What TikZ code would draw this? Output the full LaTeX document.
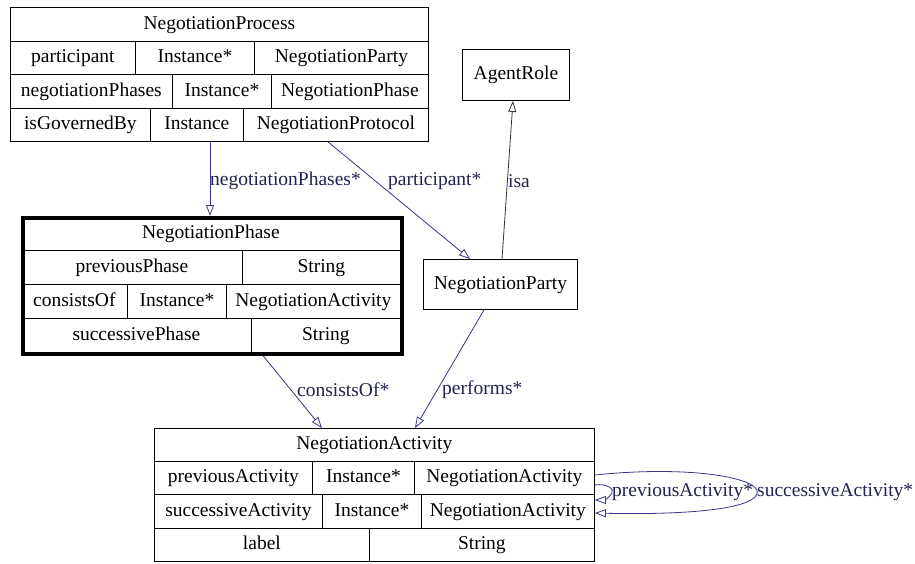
\documentclass[tikz,border=0pt]{standalone}
\usepackage{fontspec}
\setmainfont{Liberation Serif}
\usetikzlibrary{arrows.meta}
\definecolor{edgeblue}{RGB}{55,55,135}
\definecolor{labelink}{RGB}{35,35,80}
\tikzset{
  cell/.style={draw=black, line width=0.8pt, inner sep=0pt, anchor=north west,
    text height=13.5pt, text depth=4pt},
  frame/.style={draw=black, line width=0.9pt, inner sep=0pt, anchor=north west,
    text height=13.5pt, text depth=4pt},
  thickframe/.style={draw=black, line width=3.6pt, inner sep=0pt, anchor=north west},
  rel/.style={draw=edgeblue, line width=0.8pt, -{Triangle[open, length=11pt, width=8pt, line width=0.8pt]}},
  isarel/.style={draw=black!80, line width=0.8pt, -{Triangle[open, length=11pt, width=8pt, line width=0.8pt]}},
  rellabel/.style={text=labelink, inner sep=0pt, anchor=west}
}
% \rcell{name}{x1}{y1}{x2}{y2}{text}
\newcommand{\rcell}[6]{%
  \node[cell, minimum width={#4-#2}, minimum height={#5-#3}] (#1) at (#2,#3) {#6};}
\begin{document}
\begin{tikzpicture}[x=1pt, y=-1pt, font=\fontsize{19.5}{22}\selectfont]
\useasboundingbox[fill=white] (0,0) rectangle (915,563);

% ---- NegotiationProcess ----
\rcell{procT}{10}{7}{428}{41}{NegotiationProcess}
\rcell{procA}{10}{41}{135}{74}{participant}
\rcell{procB}{135}{41}{254}{74}{Instance*}
\rcell{procC}{254}{41}{428}{74}{NegotiationParty}
\rcell{procD}{10}{74}{172}{108}{negotiationPhases}
\rcell{procE}{172}{74}{271}{108}{Instance*}
\rcell{procF}{271}{74}{428}{108}{NegotiationPhase}
\rcell{procG}{10}{108}{150}{141}{isGovernedBy}
\rcell{procH}{150}{108}{243}{141}{Instance}
\rcell{procI}{243}{108}{428}{141}{NegotiationProtocol}
\node[frame, minimum width=418, minimum height=134] (proc) at (10,7) {};

% ---- NegotiationPhase ----
\rcell{phT}{21}{216}{400}{250}{NegotiationPhase}
\rcell{phA}{21}{250}{242}{284}{previousPhase}
\rcell{phB}{242}{250}{400}{284}{String}
\rcell{phC}{21}{284}{127}{318}{consistsOf}
\rcell{phD}{127}{284}{226}{318}{Instance*}
\rcell{phE}{226}{284}{400}{318}{NegotiationActivity}
\rcell{phF}{21}{318}{251}{352}{successivePhase}
\rcell{phG}{251}{318}{400}{352}{String}
\node[thickframe, minimum width=379, minimum height=136] (phase) at (21,216) {};

% ---- AgentRole / NegotiationParty ----
\node[frame, minimum width=107, minimum height=51] (agent) at (462,49) {AgentRole};
\node[frame, minimum width=154, minimum height=50] (party) at (423,259) {NegotiationParty};

% ---- NegotiationActivity ----
\rcell{actT}{154}{428}{594}{461}{NegotiationActivity}
\rcell{actA}{154}{461}{312}{494}{previousActivity}
\rcell{actB}{312}{461}{414}{494}{Instance*}
\rcell{actC}{414}{461}{594}{494}{NegotiationActivity}
\rcell{actD}{154}{494}{322}{528}{successiveActivity}
\rcell{actE}{322}{494}{421}{528}{Instance*}
\rcell{actF}{421}{494}{594}{528}{NegotiationActivity}
\rcell{actG}{154}{528}{369}{561}{label}
\rcell{actH}{369}{528}{594}{561}{String}
\node[frame, minimum width=440, minimum height=133] (act) at (154,428) {};

% ---- relations ----
\draw[rel] ([xshift=200pt]proc.south west) -- ([xshift=189pt]phase.north west);
\node[rellabel] (lphases) at (210,181) {negotiationPhases*};

\draw[rel] ([xshift=318pt]proc.south west) -- ([xshift=47pt]party.north west);
\node[rellabel] (lpart) at (388,181) {participant*};

\draw[isarel] ([xshift=79pt]party.north west) -- ([xshift=51pt]agent.south west);
\node[rellabel] (lisa) at (508,181) {isa};

\draw[rel] ([xshift=242pt]phase.south west) -- ([xshift=168pt]act.north west);
\node[rellabel] (lcons) at (297,390) {consistsOf*};

\draw[rel] ([xshift=61pt]party.south west) -- ([xshift=261pt]act.north west);
\node[rellabel] (lperf) at (442,390) {performs*};

% self relations of NegotiationActivity
\draw[rel] ([yshift=-57pt]act.north east)
  .. controls (606,483) and (615,489) .. (612,493)
  .. controls (609,498) and (604,500) .. ([yshift=-72pt]act.north east);
\draw[rel] ([yshift=-47pt]act.north east)
  .. controls (690,465) and (763,478) .. (757,494)
  .. controls (751,510) and (680,515) .. ([yshift=-85pt]act.north east);
\node[rellabel] (lprev) at (612,492) {previousActivity*};
\node[rellabel] (lsucc) at (757,492) {successiveActivity*};
\end{tikzpicture}
\end{document}
